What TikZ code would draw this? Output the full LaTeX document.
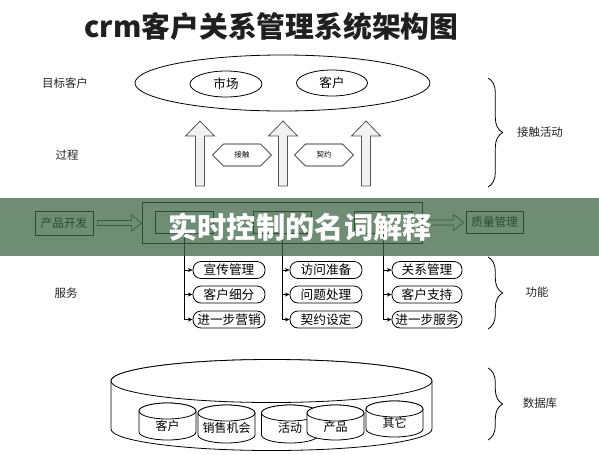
\documentclass[tikz,border=0pt]{standalone}
\usepackage{fontspec}
\setmainfont{Noto Sans CJK SC}
\usetikzlibrary{shapes.geometric,shapes.symbols,arrows.meta,calc,decorations.pathreplacing}
\definecolor{bandgreen}{RGB}{61,101,68}
\definecolor{arrowfill}{RGB}{242,242,242}
\definecolor{arrowline}{RGB}{85,85,85}
\newcommand\fs[1]{\fontsize{#1}{#1}\selectfont}
\newcommand\myharrow[2]{\draw[harrow] let \p1=(#1), \p2=(#2) in (\x1,\y1+1.9pt) -- (\x2-7.5pt,\y1+1.9pt) -- (\x2-7.5pt,\y1+6pt) -- (\x2,\y1) -- (\x2-7.5pt,\y1-6pt) -- (\x2-7.5pt,\y1-1.9pt) -- (\x1,\y1-1.9pt) -- cycle;}
\newcommand\uparrowshape[1]{\filldraw[uparr] (#1-4.5,-186) -- (#1-4.5,-136) -- (#1-14.5,-136) -- (#1,-121) -- (#1+14.5,-136) -- (#1+4.5,-136) -- (#1+4.5,-186) -- cycle;}
\newcommand\dbcyl[7]{%
 \filldraw[cylline] (#2-#5,-#3) -- (#2-#5,-#4) arc[start angle=180,end angle=360,x radius=#5,y radius=#6] -- (#2+#5,-#3) arc[start angle=0,end angle=180,x radius=#5,y radius=#6] -- cycle;
 \draw[cylline] (#2,-#3) ellipse[x radius=#5,y radius=#6];
 \node[cyltext] (#1) at (#2,{-(#3+#6+#4)/2}) {#7};}
\begin{document}
\begin{tikzpicture}[x=0.75pt,y=0.75pt,
  lbl/.style={font=\fs{8.6}, inner sep=0pt, text=black!85},
  oval/.style={draw, ellipse, inner sep=0pt, font=\fs{9.4}, line width=0.6pt},
  hexa/.style={draw, signal, signal to=west and east, signal pointer angle=90, minimum width=44.25pt, minimum height=16.5pt, inner sep=0pt, font=\fs{5.5}, line width=0.5pt},
  boxn/.style={draw, rectangle, inner sep=0pt, font=\fs{8.8}, line width=0.6pt},
  pill/.style={draw, rectangle, rounded corners=6pt, minimum width=54pt, minimum height=12.75pt, inner sep=0pt, font=\fs{9.5}, line width=0.6pt},
  branch/.style={line width=0.6pt, -{Stealth[length=3.5pt,width=3pt]}},
  harrow/.style={draw=black!80, line width=0.5pt, fill=white},
  uparr/.style={draw=arrowline, fill=arrowfill, line width=0.6pt},
  cylline/.style={draw=black, fill=white, line width=0.6pt},
  cyltext/.style={font=\fs{9}, inner sep=0pt},
  bracedeco/.style={decorate, decoration={brace, amplitude=11pt}, line width=0.6pt}
]
\useasboundingbox (0,0) rectangle (599,-454);
\fill[white] (0,0) rectangle (599,-454);

% title
\node[font=\fs{21.6}\bfseries, text=black!88] (title) at (271.5,-27) {crm客户关系管理系统架构图};

% left labels
\node[lbl] (l1) at (65,-83) {目标客户};
\node[lbl] (l2) at (67,-155) {过程};
\node[lbl] (l3) at (66,-293) {服务};

% top ellipses
\node[oval, minimum width=221.25pt, minimum height=42pt] (target) at (282.5,-83) {};
\node[oval, minimum width=54pt, minimum height=19.5pt] (mkt) at (226,-84) {市场};
\node[oval, minimum width=53.25pt, minimum height=19.5pt] (cust) at (332,-83) {客户};

% up arrows
\uparrowshape{200}
\uparrowshape{283}
\uparrowshape{366}

% hexagons
\node[hexa] (hx1) at (242,-155) {接触};
\node[hexa] (hx2) at (324,-155) {契约};

% middle row
\node[boxn, minimum width=43.5pt, minimum height=18pt] (pd) at (64,-223) {产品开发};
\node[boxn, minimum width=210pt, minimum height=30.75pt] (big) at (282,-222.5) {};
\node[boxn, minimum width=43pt, minimum height=16.5pt] (ib1) at (184.5,-222) {};
\node[boxn, minimum width=44pt, minimum height=16.5pt] (ib2) at (282.5,-222) {};
\node[boxn, minimum width=43.5pt, minimum height=16.5pt] (ib3) at (383,-222) {};
\node[boxn, minimum width=42.75pt, minimum height=16.5pt] (qm) at (494.5,-222) {质量管理};
\coordinate (a1s) at ($(pd.east)+(4,0)$);
\coordinate (a2s) at ($(big.east)+(2,0)$);
\coordinate (a2e) at ($(qm.west)+(-2,0)$);
\myharrow{a1s}{big.west}
\myharrow{a2s}{a2e}

% service pills
\node[pill] (s11) at (229,-270) {宣传管理};
\node[pill] (s12) at (229,-294.5) {客户细分};
\node[pill] (s13) at (229,-319.5) {进一步营销};
\node[pill] (s21) at (326,-270) {访问准备};
\node[pill] (s22) at (326,-294.5) {问题处理};
\node[pill] (s23) at (326,-319.5) {契约设定};
\node[pill, minimum width=52.5pt] (s31) at (427,-270) {关系管理};
\node[pill, minimum width=52.5pt] (s32) at (427,-294.5) {客户支持};
\node[pill, minimum width=52.5pt] (s33) at (427,-319.5) {进一步服务};

\foreach \c in {1,2,3}{
  \draw[branch] (ib\c.south) |- (s\c3.west);
  \draw[branch] (ib\c.south |- s\c1.west) -- (s\c1.west);
  \draw[branch] (ib\c.south |- s\c2.west) -- (s\c2.west);
}

% database
\dbcyl{db}{271.5}{381}{429}{160.5}{21.5}{}
\dbcyl{c1}{167.5}{411}{432}{28.5}{8}{客户}
\dbcyl{c2}{226.5}{413}{435}{28.5}{8}{销售机会}
\dbcyl{c3}{290}{413}{435}{28.5}{8}{活动}
\dbcyl{c4}{335.5}{413}{432}{28.5}{8}{产品}
\dbcyl{c5}{394.5}{409}{429}{28.5}{8}{其它}

% braces
\draw[bracedeco] (488,-78) -- (488,-187);
\draw[bracedeco] (488,-257) -- (488,-329);
\draw[bracedeco] (488,-368) -- (488,-440);
\node[lbl] (r1) at (540,-132) {接触活动};
\node[lbl] (r2) at (537,-292) {功能};
\node[lbl] (r3) at (540,-403) {数据库};

% banner overlay
\fill[bandgreen, fill opacity=0.74] (0,-198) rectangle (599,-256);
\node[font=\fs{22}\bfseries, text=white] (wm) at (300,-227.5) {实时控制的名词解释};
\end{tikzpicture}
\end{document}
